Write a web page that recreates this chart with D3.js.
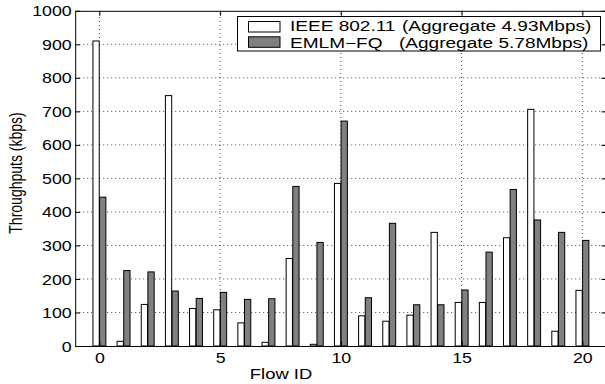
<!DOCTYPE html>
<html>
<head>
<meta charset="utf-8">
<script src="https://cdn.jsdelivr.net/npm/d3@7"></script>
<style>
  html, body { margin: 0; padding: 0; background: #fff; }
  svg { display: block; }
</style>
</head>
<body>
<script>
// ---- data ----
const flowIds = [0,1,2,3,4,5,6,7,8,9,10,11,12,13,14,15,16,17,18,19,20];
const ieee80211 = [910,14,124,747,112,108,69,11,261,5,485,90,74,92,339,130,130,323,706,44,166];
const emlmFq   = [444,225,221,164,142,160,139,141,476,309,671,144,366,123,123,167,280,467,376,339,315];
const seriesNames = ["IEEE 802.11", "EMLM\u2212FQ"];
const seriesAggregates = ["(Aggregate 4.93Mbps)", "(Aggregate 5.78Mbps)"];
const xTicks = [0,5,10,15,20];
const yTicks = [0,100,200,300,400,500,600,700,800,900,1000];
const xLabel = "Flow ID";
const yLabel = "Throughputs (kbps)";

// ---- layout ----
const W = 605, H = 384;
const FONT = "'Liberation Sans', Arial, Helvetica, sans-serif";
const SX = 1.27; // horizontal text stretch of the reference
const LSX = 1.36; // legend stretch (slightly smaller font)

const svg = d3.select("body").append("svg").attr("width", W).attr("height", H)
  .style("background", "#fff");

const x = d3.scaleLinear().domain([-1, 21]).range([75.2, 606.5]);
const y = d3.scaleLinear().domain([0, 1000]).range([346, 10.8]);

// grid
const grid = svg.append("g").attr("stroke", "#333").attr("stroke-width", 0.9)
  .attr("stroke-dasharray", "1,3");
grid.selectAll(".gx").data(xTicks).join("line")
  .attr("x1", d => x(d)).attr("x2", d => x(d))
  .attr("y1", y(0)).attr("y2", y(1000));
grid.selectAll(".gy").data(yTicks.filter(d => d > 0 && d < 1000)).join("line")
  .attr("x1", x(-1)).attr("x2", x(21))
  .attr("y1", d => y(d)).attr("y2", d => y(d));

// bars
const bw = 0.26;
const series = [
  { values: ieee80211, fill: "#ffffff", off: -0.265 },
  { values: emlmFq,    fill: "#808080", off: 0.01 }
];
series.forEach(s => {
  svg.append("g").selectAll("rect").data(flowIds).join("rect")
    .attr("x", (d) => x(d + s.off))
    .attr("width", x(bw) - x(0))
    .attr("y", (d, i) => y(s.values[i]))
    .attr("height", (d, i) => y(0) - y(s.values[i]))
    .attr("fill", s.fill)
    .attr("stroke", "#000")
    .attr("stroke-width", 1);
});

// axes (box with inward ticks)
function styleAxis(g) {
  g.attr("font-family", FONT).attr("font-size", 14);
  g.select(".domain").attr("stroke", "#000").attr("stroke-width", 1);
  g.selectAll(".tick line").attr("stroke", "#000").attr("stroke-width", 1);
  g.selectAll(".tick text").attr("fill", "#000");
}
const gBottom = svg.append("g").attr("transform", `translate(0,${y(0)})`)
  .call(d3.axisBottom(x).tickValues(xTicks).tickSizeInner(-5).tickSizeOuter(0).tickFormat(d3.format("d")));
styleAxis(gBottom);
gBottom.selectAll(".tick text").attr("y", 0).attr("dy", 0)
  .attr("transform", `translate(0,17) scale(${SX},1)`);

const gLeft = svg.append("g").attr("transform", `translate(${x(-1)},0)`)
  .call(d3.axisLeft(y).tickValues(yTicks).tickSizeInner(-5).tickSizeOuter(0).tickFormat(d3.format("d")));
styleAxis(gLeft);
gLeft.selectAll(".tick text").attr("x", 0).attr("dy", "0.36em")
  .attr("transform", `translate(-3.5,0) scale(${SX},1)`);

const gTop = svg.append("g").attr("transform", `translate(0,${y(1000)})`)
  .call(d3.axisTop(x).tickValues(xTicks).tickSizeInner(-5).tickSizeOuter(0).tickFormat(""));
styleAxis(gTop);
const gRight = svg.append("g").attr("transform", `translate(${x(21)},0)`)
  .call(d3.axisRight(y).tickValues(yTicks).tickSizeInner(-5).tickSizeOuter(0).tickFormat(""));
styleAxis(gRight);

// axis labels
svg.append("text").attr("font-family", FONT).attr("font-size", 14.5)
  .attr("text-anchor", "middle")
  .attr("transform", `translate(281,379) scale(${SX},1)`)
  .text(xLabel);
svg.append("text").attr("font-family", FONT).attr("font-size", 14)
  .attr("text-anchor", "middle")
  .attr("transform", `translate(22,173) scale(${SX},1) rotate(-90)`)
  .text(yLabel);

// legend
const lg = svg.append("g");
lg.append("rect").attr("x", 237.5).attr("y", 16.5).attr("width", 363).attr("height", 34.5)
  .attr("fill", "#fff").attr("stroke", "#000").attr("stroke-width", 1);
const legendRows = [
  { fill: "#ffffff", sy: 21.5, base: 31.4, ax: 402 },
  { fill: "#808080", sy: 36.8, base: 47.5, ax: 399 }
];
legendRows.forEach((r, i) => {
  lg.append("rect").attr("x", 248.5).attr("y", r.sy).attr("width", 31.5).attr("height", 10.5)
    .attr("fill", r.fill).attr("stroke", "#000").attr("stroke-width", 1);
  const t = lg.append("text").attr("font-family", FONT).attr("font-size", 14)
    .attr("transform", `translate(290,${r.base}) scale(${LSX},1)`);
  t.append("tspan").attr("x", 0).text(seriesNames[i]);
  t.append("tspan").attr("x", (r.ax - 290) / LSX).text(seriesAggregates[i]);
});
</script>
</body>
</html>
